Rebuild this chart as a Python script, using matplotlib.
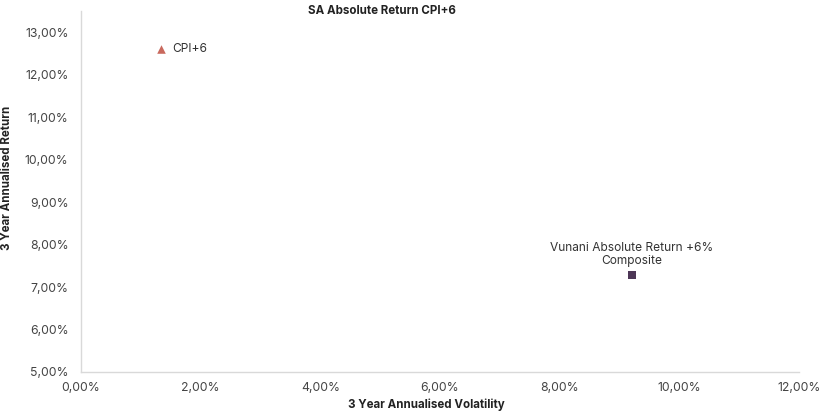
import matplotlib.pyplot as plt
from matplotlib.ticker import FuncFormatter, MultipleLocator

plt.rcParams['font.family'] = ['Inter', 'DejaVu Sans']

# Data (percent)
names = ['CPI+6', 'Vunani Absolute Return +6%\nComposite']
volatility = [1.34, 9.21]
returns = [12.60, 7.28]
markers = ['^', 's']
colors = ['#c9695d', '#4d3656']

fig = plt.figure(figsize=(8.28, 4.13), dpi=100)
ax = fig.add_axes([81 / 828, 41 / 413, 718 / 828, 361 / 413])

for x, y, m, c in zip(volatility, returns, markers, colors):
    ax.scatter(x, y, marker=m, color=c, s=38, zorder=3, linewidths=0)

# labels
ax.annotate(names[0], (volatility[0], returns[0]), xytext=(8, 0),
            textcoords='offset points', ha='left', va='center',
            fontsize=8.6, color='#333333')
ax.annotate(names[1], (volatility[1], returns[1]), xytext=(0, 6),
            textcoords='offset points', ha='center', va='bottom',
            fontsize=8.6, color='#333333', linespacing=1.05)

ax.set_xlim(0, 12)
ax.set_ylim(5, 13.5)
ax.xaxis.set_major_locator(MultipleLocator(2))
ax.set_yticks([5, 6, 7, 8, 9, 10, 11, 12, 13])
fmt = FuncFormatter(lambda v, p: ('%.2f%%' % v).replace('.', ','))
ax.xaxis.set_major_formatter(fmt)
ax.yaxis.set_major_formatter(fmt)
ax.tick_params(length=0, labelsize=8.8, labelcolor='#444444')
ax.tick_params(axis='y', pad=9)
ax.tick_params(axis='x', pad=7)

for s in ['top', 'right']:
    ax.spines[s].set_visible(False)
for s in ['left', 'bottom']:
    ax.spines[s].set_color('#d9d9d9')
    ax.spines[s].set_linewidth(1)

fig.text(382 / 828, 1 - 11 / 413, 'SA Absolute Return CPI+6', ha='center', va='center',
         fontsize=8.3, fontweight='bold', color='#222222')
fig.text(426 / 828, 1 - 405 / 413, '3 Year Annualised Volatility', ha='center', va='center',
         fontsize=8.3, fontweight='bold', color='#222222')
fig.text(7 / 828, 1 - 178 / 413, '3 Year Annualised Return', ha='center', va='center',
         rotation=90, fontsize=8.3, fontweight='bold', color='#222222')

fig.savefig('out.png', dpi=100)
